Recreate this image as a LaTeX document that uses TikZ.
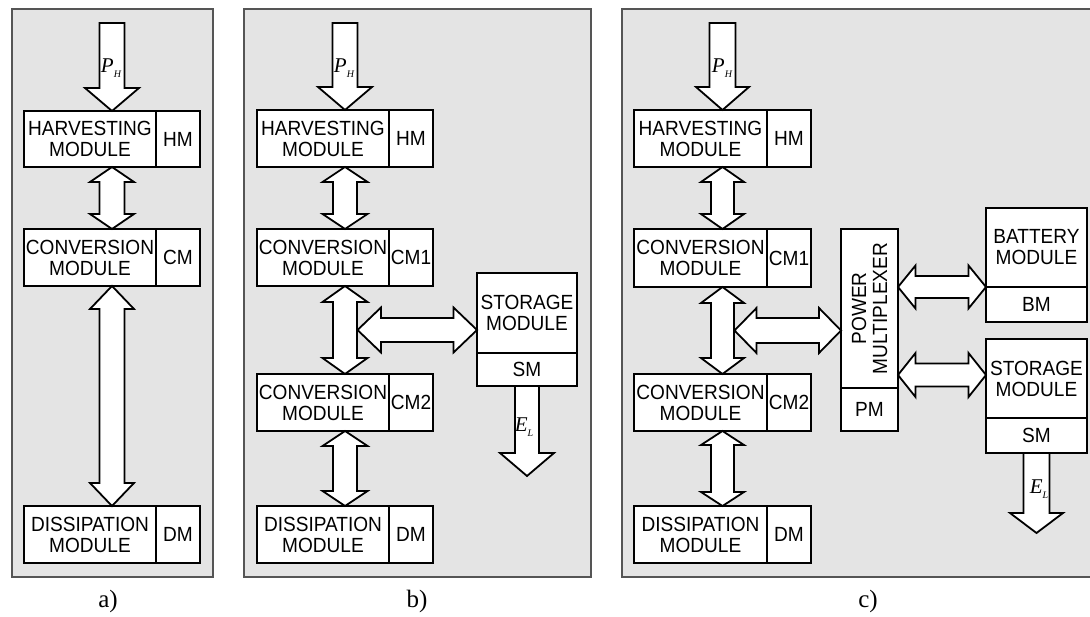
\documentclass[tikz,border=0pt]{standalone}
\usepackage{fontspec}
\setmainfont{Liberation Sans}[FakeStretch=0.93]
\newfontfamily\labelfont{Liberation Serif}
\usetikzlibrary{calc}
\definecolor{panelgray}{RGB}{228,228,228}
\definecolor{panelborder}{RGB}{85,85,85}
\tikzset{
  panel/.style={fill=panelgray, draw=panelborder, line width=1.1pt},
  modbox/.style={draw=black, fill=white, line width=1.8pt, inner sep=0pt, outer sep=0pt},
  modline/.style={draw=black, line width=1.8pt},
  modtext/.style={font=\fontsize{20.5}{21}\selectfont, align=center, inner sep=0pt},
  fat/.style={draw=black, fill=white, line width=1.8pt, line join=miter},
  figlabel/.style={font=\labelfont\fontsize{25}{25}\selectfont, inner sep=0pt},
  sym/.style={font=\labelfont\itshape\fontsize{21}{21}\selectfont, inner sep=0pt}
}
% horizontal split module: name, x1, y1, x2, y2, divider x, text, tag
\newcommand\hmodule[8]{%
  \node[modbox, minimum width={#4-#2}, minimum height={#5-#3}] (#1) at ({(#2+#4)/2},{(#3+#5)/2}) {};
  \draw[modline] (#6,#3) -- (#6,#5);
  \node[modtext] (#1-t) at ({(#2+#6)/2},{(#3+#5)/2}) {#7};
  \node[modtext] (#1-g) at ({(#6+#4)/2},{(#3+#5)/2}) {#8};
}
% vertical split module: name, x1, y1, x2, y2, divider y, text, tag
\newcommand\vmodule[8]{%
  \node[modbox, minimum width={#4-#2}, minimum height={#5-#3}] (#1) at ({(#2+#4)/2},{(#3+#5)/2}) {};
  \draw[modline] (#2,#6) -- (#4,#6);
  \node[modtext] (#1-t) at ({(#2+#4)/2},{(#3+#6)/2}) {#7};
  \node[modtext] (#1-g) at ({(#2+#4)/2},{(#6+#5)/2}) {#8};
}
% vertical double fat arrow: top tip, bottom tip, shaft half, head half, head length
\newcommand\vdfat[5]{%
  \draw[fat] (#1) -- ++(#4,#5) -- ++({-(#4-#3)},0) -- ($(#2)+(#3,-#5)$) -- ++({#4-#3},0)
    -- (#2) -- ++(-#4,-#5) -- ++({#4-#3},0) -- ($(#1)+(-#3,#5)$) -- ++({-(#4-#3)},0) -- cycle;}
% vertical single fat arrow (downwards): tail centre, tip, shaft half, head half, head length
\newcommand\vsfat[5]{%
  \draw[fat] ($(#1)+(-#3,0)$) -- ($(#1)+(#3,0)$) -- ($(#2)+(#3,-#5)$) -- ++({#4-#3},0)
    -- (#2) -- ++(-#4,-#5) -- ++({#4-#3},0) -- cycle;}
% horizontal double fat arrow: left tip, right tip, shaft half, head half, head length
\newcommand\hdfat[5]{%
  \draw[fat] (#1) -- ++(#5,-#4) -- ++(0,{#4-#3}) -- ($(#2)+(-#5,-#3)$) -- ++(0,{-(#4-#3)})
    -- (#2) -- ++(-#5,#4) -- ++(0,{-(#4-#3)}) -- ($(#1)+(#5,#3)$) -- ++(0,{#4-#3}) -- cycle;}
\begin{document}
\begin{tikzpicture}[x=1pt,y=-1pt]
\useasboundingbox (0,0) rectangle (1090,617);
% panels
\path[panel] (12,9) rectangle (213,577);
\path[panel] (244,9) rectangle (591,577);
\path[panel] (622,9) rectangle (1100,577);

% ---------- panel a ----------
\hmodule{hma}{24}{111}{200}{167}{156}{HARVESTING\\MODULE}{HM}
\hmodule{cma}{24}{229}{200}{286}{156}{CONVERSION\\MODULE}{CM}
\hmodule{dma}{24}{506}{200}{563}{156}{DISSIPATION\\MODULE}{DM}
\coordinate (pa) at ($(hma.north)+(0,-88)$);
\vsfat{pa}{hma.north}{12.5}{27}{23}
\vdfat{hma.south}{cma.north}{12.5}{22}{15}
\vdfat{cma.south}{dma.north}{12.5}{22}{23}
\node[sym] (pha) at (111,68) {P\raisebox{-0.55ex}{\fontsize{10}{10}\selectfont H}};
\node[figlabel] (la) at (108,601) {a)};

% ---------- panel b ----------
\hmodule{hmb}{257}{110}{433}{167}{389}{HARVESTING\\MODULE}{HM}
\hmodule{cm1b}{257}{229}{433}{286}{389}{CONVERSION\\MODULE}{CM1}
\hmodule{cm2b}{257}{374}{433}{431}{389}{CONVERSION\\MODULE}{CM2}
\hmodule{dmb}{257}{506}{433}{563}{389}{DISSIPATION\\MODULE}{DM}
\vmodule{smb}{477}{273}{577}{386}{353}{STORAGE\\MODULE}{SM}
\coordinate (pb) at ($(hmb.north)+(0,-87)$);
\vsfat{pb}{hmb.north}{12.5}{27}{23}
\vdfat{hmb.south}{cm1b.north}{12}{22.5}{15}
\vdfat{cm1b.south}{cm2b.north}{12}{22.5}{16}
\vdfat{cm2b.south}{dmb.north}{12}{22.5}{15}
\coordinate (bj) at ($(cm1b.south)!0.5!(cm2b.north)+(12.5,0)$);
\coordinate (bk) at (bj -| smb.west);
\hdfat{bj}{bk}{12}{22.5}{23.5}
\coordinate (elb) at ($(smb.south)+(0,90)$);
\vsfat{smb.south}{elb}{12}{27}{23}
\node[sym] (phb) at (344,68) {P\raisebox{-0.55ex}{\fontsize{10}{10}\selectfont H}};
\node[sym] (elbl) at (524,427) {E\raisebox{-0.55ex}{\fontsize{10}{10}\selectfont L}};
\node[figlabel] (lb) at (417,601) {b)};

% ---------- panel c ----------
\hmodule{hmc}{634}{110}{811}{167}{767}{HARVESTING\\MODULE}{HM}
\hmodule{cm1c}{634}{229}{811}{287}{767}{CONVERSION\\MODULE}{CM1}
\hmodule{cm2c}{634}{374}{811}{431}{767}{CONVERSION\\MODULE}{CM2}
\hmodule{dmc}{634}{506}{811}{563}{767}{DISSIPATION\\MODULE}{DM}
\vmodule{pm}{841}{229}{898}{431}{388}{}{PM}
\node[modtext, rotate=90] (pmtext) at (869.5,308.5) {POWER\\MULTIPLEXER};
\vmodule{bmc}{986}{208}{1087}{322}{287}{BATTERY\\MODULE}{BM}
\vmodule{smc}{986}{339}{1087}{453}{418}{STORAGE\\MODULE}{SM}
\coordinate (pc) at ($(hmc.north)+(0,-87)$);
\vsfat{pc}{hmc.north}{13}{26.5}{23}
\vdfat{hmc.south}{cm1c.north}{11.5}{21.5}{15}
\vdfat{cm1c.south}{cm2c.north}{11.5}{21.5}{16}
\vdfat{cm2c.south}{dmc.north}{11.5}{21.5}{14}
\coordinate (cj) at ($(cm1c.south)!0.5!(cm2c.north)+(12,0)$);
\coordinate (ck) at (cj -| pm.west);
\hdfat{cj}{ck}{12.5}{22.5}{22}
\coordinate (c1a) at ($(bmc.north west)+(0,79)$);
\coordinate (c1) at (c1a -| pm.east);
\hdfat{c1}{c1a}{11}{21.5}{17.5}
\coordinate (c2a) at ($(smc.north west)+(0,36)$);
\coordinate (c2) at (c2a -| pm.east);
\hdfat{c2}{c2a}{11.5}{22}{17.5}
\coordinate (elc) at ($(smc.south)+(0,80)$);
\vsfat{smc.south}{elc}{13}{26.5}{20}
\node[sym] (phc) at (722,68) {P\raisebox{-0.55ex}{\fontsize{10}{10}\selectfont H}};
\node[sym] (elcl) at (1039,489) {E\raisebox{-0.55ex}{\fontsize{10}{10}\selectfont L}};
\node[figlabel] (lc) at (868,601) {c)};
\end{tikzpicture}
\end{document}
